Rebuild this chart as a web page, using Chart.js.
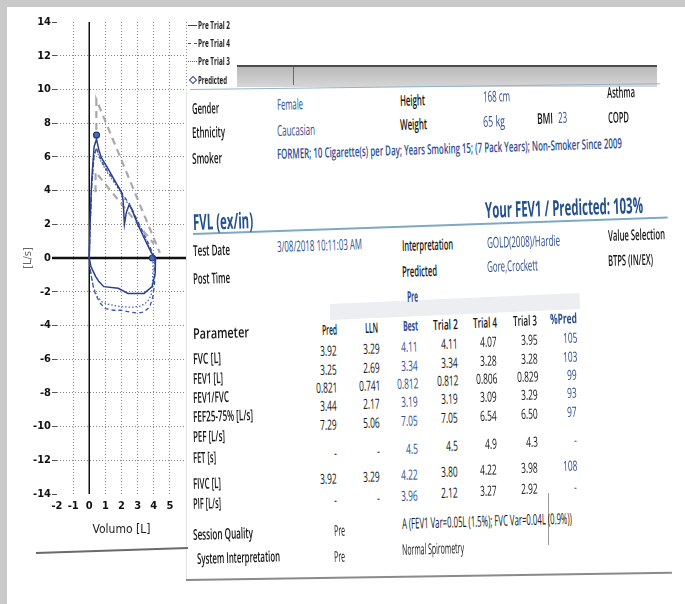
<!DOCTYPE html>
<html>
<head>
<meta charset="utf-8">
<title>FVL (ex/in)</title>
<script src="https://cdn.jsdelivr.net/npm/chart.js"></script>
<style>
    body {
        margin: 0;
        width: 685px;
        height: 604px;
        position: relative;
        overflow: hidden;
        background: #fff;
        font-family: 'Open Sans', sans-serif;
    }
    .edge { position: absolute; background: #c9c9c9; z-index: 5; }
    #chartBox { position: absolute; left: 0; top: 0; width: 192px; height: 541px; z-index: 1; }
    .panel {
        position: absolute; left: 186px; top: 88px; width: 492px; height: 492px;
        background: #fff; border-left: 1px solid #e4e4e4; z-index: 2;
    }
    .strip {
        position: absolute; left: 237px; top: 65px; width: 420px; height: 20px;
        background: linear-gradient(#b9b9b9, #d6d6d6); border-top: 2px solid #4d4d4d; z-index: 2;
    }
    .rule { position: absolute; transform-origin: 0 50%; z-index: 3; }
    .t {
        position: absolute; white-space: nowrap; line-height: 1;
        transform-origin: 0 50%; color: #1c1c1c; z-index: 4;
    }
    .leg { position: absolute; z-index: 4; }
    .sw { position: absolute; left: 188px; width: 9px; height: 0; }
</style>
</head>
<body>
    <div class="edge" style="left:0;top:0;width:685px;height:7px"></div>
    <div class="edge" style="left:0;top:0;width:7px;height:604px"></div>

    <div id="chartBox"><canvas id="fvlChart" width="192" height="541"></canvas></div>

    <!-- legend of the loop -->
    <div class="sw leg" style="top:25px;border-top:1.5px solid #2c3f91"></div>
    <div class="sw leg" style="top:43px;border-top:1.5px dashed #3a55a5"></div>
    <div class="sw leg" style="top:61px;border-top:1.5px dotted #4c66b0"></div>
    <div class="leg" style="left:190px;top:77px;width:4px;height:4px;border:1.2px solid #2c4aa0;transform:rotate(45deg)"></div>

    <!-- report panel -->
    <div class="strip"></div>
    <div class="rule" style="left:293px;top:67px;width:1px;height:18px;background:#6a6a6a"></div>
    <div class="panel"></div>
    <div class="rule" style="left:190px;top:89px;width:470px;height:1px;background:#8db6ca;transform:rotate(-0.7deg)"></div>
    <div class="rule" style="left:193px;top:233px;width:475px;height:1.5px;background:#7fa9c0;transform:rotate(-2deg)"></div>
    <div class="rule" style="left:330px;top:304px;width:250px;height:16px;background:#eceef2;transform:rotate(-2.5deg);z-index:2"></div>
    <div class="rule" style="left:548px;top:493px;width:1px;height:52px;background:#9a9a9a"></div>
    <div class="rule" style="left:186px;top:579px;width:486px;height:1.5px;background:#8a8a8a;transform:rotate(-0.85deg)"></div>
    <div class="rule" style="left:36px;top:552px;width:152px;height:1.5px;background:#6a6a6a;transform:rotate(-1.9deg)"></div>

<script>
    // Flow-volume loop: volume [L] and flow [L/s]
    const trial2Vol  = [0, 0.05, 0.15, 0.3, 0.45, 0.6, 0.75, 1.1, 1.4, 1.7, 2.0, 2.1, 2.18, 2.3, 2.45, 2.6, 2.8, 3.0, 3.2, 3.45, 3.7, 3.9, 4.05, 4.11,
                        4.1, 4.08, 3.9, 3.4, 2.4, 1.8, 0.9, 0.6, 0.4, 0.1, 0];
    const trial2Flow = [0, 2.0, 4.6, 6.6, 7.05, 6.4, 5.95, 5.4, 4.9, 4.4, 3.9, 3.4, 2.0, 2.7, 3.1, 3.0, 2.5, 2.0, 1.6, 1.1, 0.6, 0.25, 0.05, 0,
                        -0.4, -0.9, -1.7, -2.1, -2.1, -1.8, -1.7, -1.4, -1.1, -0.5, 0];

    const trial4Vol  = [0, 0.05, 0.15, 0.3, 0.45, 0.6, 0.8, 1.1, 1.4, 1.8, 2.2, 2.5, 2.8, 3.1, 3.4, 3.7, 3.9, 4.07,
                        4.07, 4.05, 3.95, 3.75, 3.4, 3.0, 2.5, 2.0, 1.5, 1.0, 0.7, 0.4, 0.2, 0.05, 0];
    const trial4Flow = [0, 1.8, 4.3, 6.1, 6.54, 6.1, 5.7, 5.2, 4.8, 4.2, 3.6, 3.2, 2.6, 2.0, 1.4, 0.8, 0.35, 0,
                        -0.6, -1.5, -2.3, -2.9, -3.2, -3.27, -3.2, -3.1, -3.1, -3.0, -2.7, -2.2, -1.5, -0.6, 0];

    const trial3Vol  = [0, 0.05, 0.15, 0.3, 0.45, 0.6, 0.8, 1.1, 1.4, 1.8, 2.2, 2.5, 2.8, 3.1, 3.4, 3.65, 3.85, 3.95,
                        3.95, 3.92, 3.85, 3.6, 3.2, 2.7, 2.2, 1.7, 1.2, 0.8, 0.5, 0.25, 0.08, 0];
    const trial3Flow = [0, 1.7, 4.2, 6.0, 6.5, 6.0, 5.6, 5.1, 4.7, 4.1, 3.5, 3.1, 2.5, 1.9, 1.3, 0.8, 0.3, 0,
                        -0.7, -1.5, -2.2, -2.6, -2.85, -2.92, -2.9, -2.85, -2.75, -2.6, -2.3, -1.7, -0.8, 0];

    const predVol  = [0.45, 3.92];
    const predFlow = [7.29, 0];

    // grey dashed reference lines
    const upperVol  = [0.44, 0.44, 4.38];
    const upperFlow = [7.6, 9.4, 0.3];
    const lowerVol  = [0.39, 0.39, 4.0];
    const lowerFlow = [3.9, 5.1, 0.85];

    const xTicks = [-2, -1, 0, 1, 2, 3, 4, 5];

    // report table
    const paramNames = ['FVC [L]', 'FEV1 [L]', 'FEV1/FVC', 'FEF25-75% [L/s]', 'PEF [L/s]', 'FET [s]', 'FIVC [L]', 'PIF [L/s]'];
    const colNames = ['Pred', 'LLN', 'Best', 'Trial 2', 'Trial 4', 'Trial 3', '%Pred'];
    const predCol   = ['3.92', '3.25', '0.821', '3.44', '7.29', '-', '3.92', '-'];
    const llnCol    = ['3.29', '2.69', '0.741', '2.17', '5.06', '-', '3.29', '-'];
    const bestCol   = ['4.11', '3.34', '0.812', '3.19', '7.05', '4.5', '4.22', '3.96'];
    const trial2Col = ['4.11', '3.34', '0.812', '3.19', '7.05', '4.5', '3.80', '2.12'];
    const trial4Col = ['4.07', '3.28', '0.806', '3.09', '6.54', '4.9', '4.22', '3.27'];
    const trial3Col = ['3.95', '3.28', '0.829', '3.29', '6.50', '4.3', '3.98', '2.92'];
    const pctCol    = ['105', '103', '99', '93', '97', '-', '108', '-'];

    const BLUE = '#2f4f8f';
    const INK = '#151515';
    const toPts = (xs, ys) => xs.map((x, i) => ({ x: x, y: ys[i] }));

    // solid black zero lines
    const zeroLines = {
        id: 'zeroLines',
        beforeDatasetsDraw(chart) {
            const { ctx, scales: { x, y } } = chart;
            const x0 = x.getPixelForValue(0);
            const y0 = y.getPixelForValue(0);
            ctx.save();
            ctx.strokeStyle = '#111';
            ctx.lineWidth = 1.5;
            ctx.beginPath();
            ctx.moveTo(x0, y.top);
            ctx.lineTo(x0, y.bottom);
            ctx.stroke();
            ctx.lineWidth = 2.5;
            ctx.beginPath();
            ctx.moveTo(x.left - 5, y0);
            ctx.lineTo(x.right, y0);
            ctx.stroke();
            ctx.restore();
        }
    };

    const narrow = "'Liberation Sans Narrow', 'DejaVu Sans Condensed', 'Liberation Sans', sans-serif";
    const tickFont = { family: narrow, size: 11, weight: 'bold' };

    new Chart(document.getElementById('fvlChart'), {
        type: 'scatter',
        data: {
            datasets: [
                { label: 'Pre Trial 2', data: toPts(trial2Vol, trial2Flow), showLine: true, borderColor: '#2c3f91', borderWidth: 1.5, pointRadius: 0 },
                { label: 'Pre Trial 4', data: toPts(trial4Vol, trial4Flow), showLine: true, borderColor: '#3a55a5', borderWidth: 1.3, borderDash: [4, 3], pointRadius: 0 },
                { label: 'Pre Trial 3', data: toPts(trial3Vol, trial3Flow), showLine: true, borderColor: '#4c66b0', borderWidth: 1.3, borderDash: [1.5, 2], pointRadius: 0 },
                { label: 'Predicted', data: toPts(predVol, predFlow), showLine: false, pointStyle: 'circle', pointRadius: 3,
                  backgroundColor: '#4a68b8', borderColor: '#1f3a80', borderWidth: 1.2 },
                { label: 'upper', data: toPts(upperVol, upperFlow), showLine: true, borderColor: 'rgba(140,140,140,0.75)', borderWidth: 2.2, borderDash: [7, 5], pointRadius: 0 },
                { label: 'lower', data: toPts(lowerVol, lowerFlow), showLine: true, borderColor: 'rgba(140,140,140,0.75)', borderWidth: 2.2, borderDash: [7, 5], pointRadius: 0 }
            ]
        },
        options: {
            responsive: false,
            animation: false,
            layout: { padding: { top: 22, right: 1, left: 0, bottom: 0 } },
            plugins: { legend: { display: false }, tooltip: { enabled: false } },
            scales: {
                x: {
                    type: 'linear',
                    min: -2,
                    max: 6,
                    afterBuildTicks: (s) => { s.ticks = s.ticks.filter(t => xTicks.includes(t.value) || t.value === 6); },
                    afterFit: (s) => { s.height = 47; },
                    ticks: { stepSize: 1, autoSkip: false, maxRotation: 0, padding: 6, color: '#111', font: tickFont,
                             callback: (v) => xTicks.includes(v) ? v : '' },
                    grid: {
                        color: (c) => (c.tick && (c.tick.value === -2 || c.tick.value === 0)) ? 'rgba(0,0,0,0)' : '#8a8a8a',
                        lineWidth: 1,
                        drawTicks: false
                    },
                    border: { display: false, dash: [1, 2] },
                    title: { display: true, text: 'Volumo [L]', color: '#1a1a1a', padding: { top: 2, bottom: 4 },
                             font: { family: narrow, size: 12 } }
                },
                y: {
                    min: -14,
                    max: 14,
                    afterFit: (s) => { s.width = 57; },
                    ticks: { stepSize: 2, padding: 1, color: '#111', font: tickFont },
                    grid: {
                        color: (c) => (c.tick && (Math.abs(c.tick.value) === 14 || c.tick.value === 0)) ? 'rgba(0,0,0,0)' : '#8a8a8a',
                        tickColor: '#555',
                        tickLength: 5,
                        lineWidth: 1
                    },
                    border: { display: false, dash: [1, 2] },
                    title: { display: true, text: '[L/s]', color: '#666', padding: { top: 22, bottom: 0 },
                             font: { family: narrow, size: 11 } }
                }
            }
        },
        plugins: [zeroLines]
    });

    // text of the report, positioned like the scan (condensed, slightly tilted)
    function addText(txt, x, y, o) {
        o = o || {};
        const el = document.createElement('span');
        el.className = 't';
        el.textContent = txt;
        el.style.fontSize = (o.size || 15) + 'px';
        el.style.color = o.color || INK;
        el.style.fontWeight = o.weight || 600;
        document.body.appendChild(el);
        const w0 = el.getBoundingClientRect().width;
        const s = o.w ? o.w / w0 : (o.s || 0.6);
        const left = o.right ? x - w0 * s : x;
        el.style.left = left + 'px';
        el.style.top = (y - el.offsetHeight / 2) + 'px';
        const rot = o.rot === undefined ? -1.8 : o.rot;
        el.style.transform = 'rotate(' + rot + 'deg) scaleX(' + s + ')';
    }

    // legend labels
    [['Pre Trial 2', 25, 32], ['Pre Trial 4', 43, 32], ['Pre Trial 3', 61, 32], ['Predicted', 80, 29]].forEach(([t, y, w]) =>
        addText(t, 198, y, { w: w, size: 10, weight: 'bold', rot: 0, color: '#222' }));

    addText('Gender', 192, 108, { w: 27 });
    addText('Ethnicity', 192, 132, { w: 33 });
    addText('Smoker', 192, 158, { w: 30 });
    addText('Female', 277, 104, { w: 26, color: BLUE, weight: 400 });
    addText('Caucasian', 277, 130, { w: 38, color: BLUE, weight: 400 });
    addText('FORMER; 10 Cigarette(s) per Day; Years Smoking 15; (7 Pack Years); Non-Smoker Since 2009', 277, 154, { w: 345, size: 14, color: BLUE });
    addText('Height', 400, 100, { w: 25 });
    addText('Weight', 400, 124, { w: 27 });
    addText('168 cm', 483, 96, { w: 27, color: BLUE, weight: 400 });
    addText('65 kg', 483, 121, { w: 22, color: BLUE, weight: 400 });
    addText('BMI', 537, 118, { w: 16 });
    addText('23', 558, 117, { w: 9, color: BLUE, weight: 400 });
    addText('Asthma', 607, 92, { w: 28 });
    addText('COPD', 608, 117, { w: 21 });

    addText('FVL (ex/in)', 193, 221, { w: 60, size: 22, weight: 'bold', color: '#23508f' });
    addText('Your FEV1 / Predicted: 103%', 485, 209, { w: 158, size: 22, weight: 'bold', color: '#23508f' });

    addText('Test Date', 193, 250, { w: 37 });
    addText('Post Time', 193, 278, { w: 37 });
    addText('3/08/2018 10:11:03 AM', 277, 246, { w: 85, color: BLUE, weight: 400 });
    addText('Interpretation', 402, 245, { w: 51 });
    addText('Predicted', 402, 271, { w: 35 });
    addText('GOLD(2008)/Hardie', 487, 242, { w: 73, color: BLUE, weight: 400 });
    addText('Gore,Crockett', 487, 266, { w: 51, color: BLUE, weight: 400 });
    addText('Value Selection', 608, 235, { w: 57 });
    addText('BTPS (IN/EX)', 608, 260, { w: 45 });
    addText('Pre', 407, 296, { w: 11, weight: 'bold', color: BLUE });

    // table
    addText('Parameter', 193, 333, { w: 56 });
    const headLeft = [322, 365, 403, 433, 473, 513, 550];
    const headY = [330, 328, 326, 325, 323, 321, 319];
    const headW = [15, 13, 15, 25, 24, 24, 27];
    colNames.forEach((n, i) => {
        const blueHead = (n === 'Best' || n === '%Pred');
        addText(n, headLeft[i], headY[i], { w: headW[i], size: 14, weight: blueHead ? 'bold' : 600, color: blueHead ? BLUE : INK });
    });

    const labelY = [358, 378, 397, 416, 436, 457, 483, 503];
    const labelW = [28, 30, 36, 60, 32, 23, 28, 28];
    paramNames.forEach((p, r) => addText(p, 193, labelY[r], { w: labelW[r] }));

    const colRight = [337, 380, 418, 458, 497, 538, 577];
    const valY = [351, 370, 388, 406, 425, 453, 479, 500];
    const cols = [predCol, llnCol, bestCol, trial2Col, trial4Col, trial3Col, pctCol];
    cols.forEach((col, c) => {
        col.forEach((v, r) => {
            const y = valY[r] - 0.055 * (colRight[c] - colRight[0]);
            addText(v, colRight[c], y, { right: true, size: 14, s: 0.6, weight: 400, color: (c === 2 || c === 6) ? BLUE : INK });
        });
    });

    addText('Session Quality', 193, 534, { w: 60 });
    addText('System Interpretation', 197, 558, { w: 83 });
    addText('Pre', 334, 530, { w: 11, weight: 400 });
    addText('Pre', 334, 556, { w: 11, weight: 400 });
    addText('A (FEV1 Var=0.05L (1.5%); FVC Var=0.04L (0.9%))', 402, 523, { w: 170, weight: 400 });
    addText('Normal Spirometry', 402, 549, { w: 62, weight: 400 });
</script>
</body>
</html>
